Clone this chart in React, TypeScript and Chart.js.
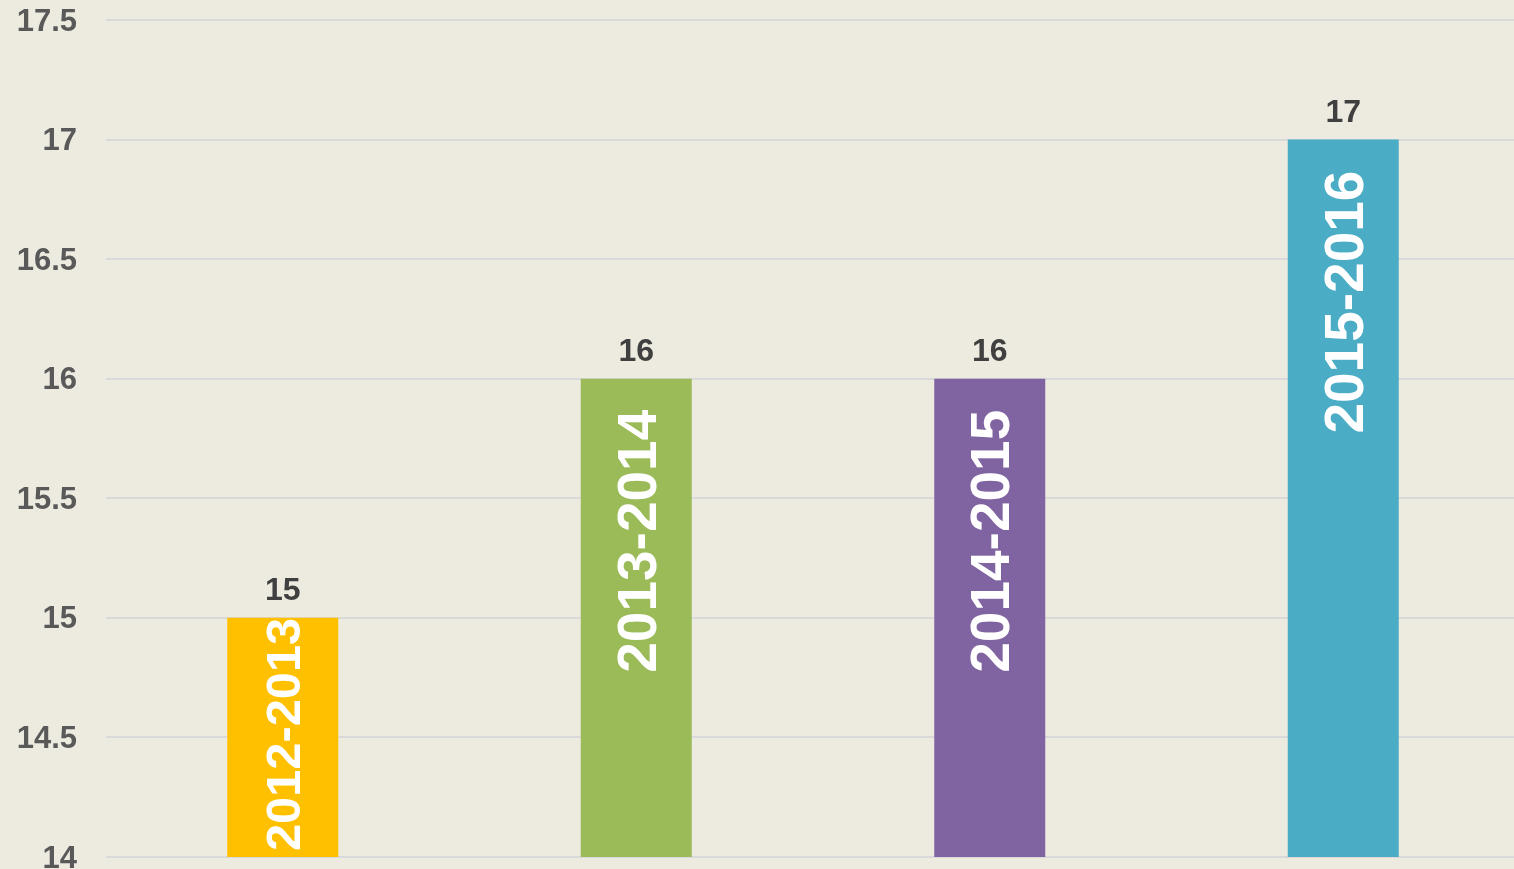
import React, { useEffect, useRef } from "react";
import { Chart, registerables } from "chart.js";

Chart.register(...registerables);

const categories = ["2012-2013", "2013-2014", "2014-2015", "2015-2016"];
const values = [15, 16, 16, 17];
const barColors = ["#FFC000", "#9BBB59", "#8064A2", "#4BACC6"];
const yTicksMin = 14;
const yTicksMax = 17.5;
const yTicksStep = 0.5;
const yTickLabels = ["14", "14.5", "15", "15.5", "16", "16.5", "17", "17.5"];

const BG = "#EDEBE0";
const FONT = "'Liberation Sans', Arial, sans-serif";

const labelPlugin = {
  id: "barLabels",
  afterDatasetsDraw(chart: any) {
    const ctx = chart.ctx as CanvasRenderingContext2D;
    const meta = chart.getDatasetMeta(0);
    const bottom = chart.chartArea.bottom;
    meta.data.forEach((bar: any, i: number) => {
      const { x, y, width } = bar.getProps(["x", "y", "width"], true);
      const base = bottom;
      // value above the bar
      ctx.save();
      ctx.fillStyle = "#404040";
      ctx.font = `bold 32px ${FONT}`;
      ctx.textAlign = "center";
      ctx.textBaseline = "alphabetic";
      ctx.fillText(String(values[i]), x, y - 18);
      ctx.restore();

      // rotated category label inside the bar
      ctx.save();
      let fontSize = 55;
      ctx.font = `bold ${fontSize}px ${FONT}`;
      ctx.fillStyle = "#FFFFFF";
      const textLen = ctx.measureText(categories[i]).width;
      const h = base - y;
      if (textLen + 40 > h) {
        fontSize = Math.min(55, (fontSize * (h - 6)) / textLen);
        ctx.font = `bold ${fontSize}px ${FONT}`;
        const capHalf = (fontSize * 0.716) / 2;
        ctx.translate(x + capHalf, base - 6);
        ctx.rotate(-Math.PI / 2);
        ctx.textAlign = "left";
      } else {
        const capHalf = (fontSize * 0.716) / 2;
        ctx.translate(x + capHalf, y + 31);
        ctx.rotate(-Math.PI / 2);
        ctx.textAlign = "right";
      }
      ctx.textBaseline = "alphabetic";
      ctx.fillText(categories[i], 0, 0);
      ctx.restore();
    });
  },
};

export default function App() {
  const canvasRef = useRef<HTMLCanvasElement | null>(null);

  useEffect(() => {
    document.body.style.margin = "0";
    document.body.style.background = BG;
    const canvas = canvasRef.current!;
    const chart = new Chart(canvas, {
      type: "bar",
      data: {
        labels: categories,
        datasets: [
          {
            data: values,
            backgroundColor: barColors,
            borderWidth: 0,
            categoryPercentage: 1,
            barPercentage: 0.314,
          },
        ],
      },
      options: {
        animation: false,
        responsive: false,
        maintainAspectRatio: false,
        layout: { padding: { top: 20, bottom: 20, left: 15, right: 0 } },
        plugins: {
          legend: { display: false },
          tooltip: { enabled: false },
        },
        scales: {
          x: {
            display: false,
          },
          y: {
            min: yTicksMin,
            max: yTicksMax,
            afterFit: (scale: any) => {
              scale.width = 91;
              scale.paddingTop = 0;
              scale.paddingBottom = 0;
            },
            ticks: {
              stepSize: yTicksStep,
              padding: 29,
              labelOffset: 2,
              color: "#595959",
              font: { family: FONT, size: 31, weight: "bold" },
              callback: (_v: any, idx: number) => yTickLabels[idx],
            },
            border: { display: false },
            grid: {
              color: "#D9D9D9",
              lineWidth: 2,
              drawTicks: false,
            },
          },
        },
      },
      plugins: [labelPlugin],
    });
    return () => chart.destroy();
  }, []);

  return (
    <div style={{ position: "fixed", left: 0, top: 0, width: 1520, height: 877, background: BG }}>
      <canvas ref={canvasRef} width={1520} height={877} style={{ display: "block" }} />
    </div>
  );
}
